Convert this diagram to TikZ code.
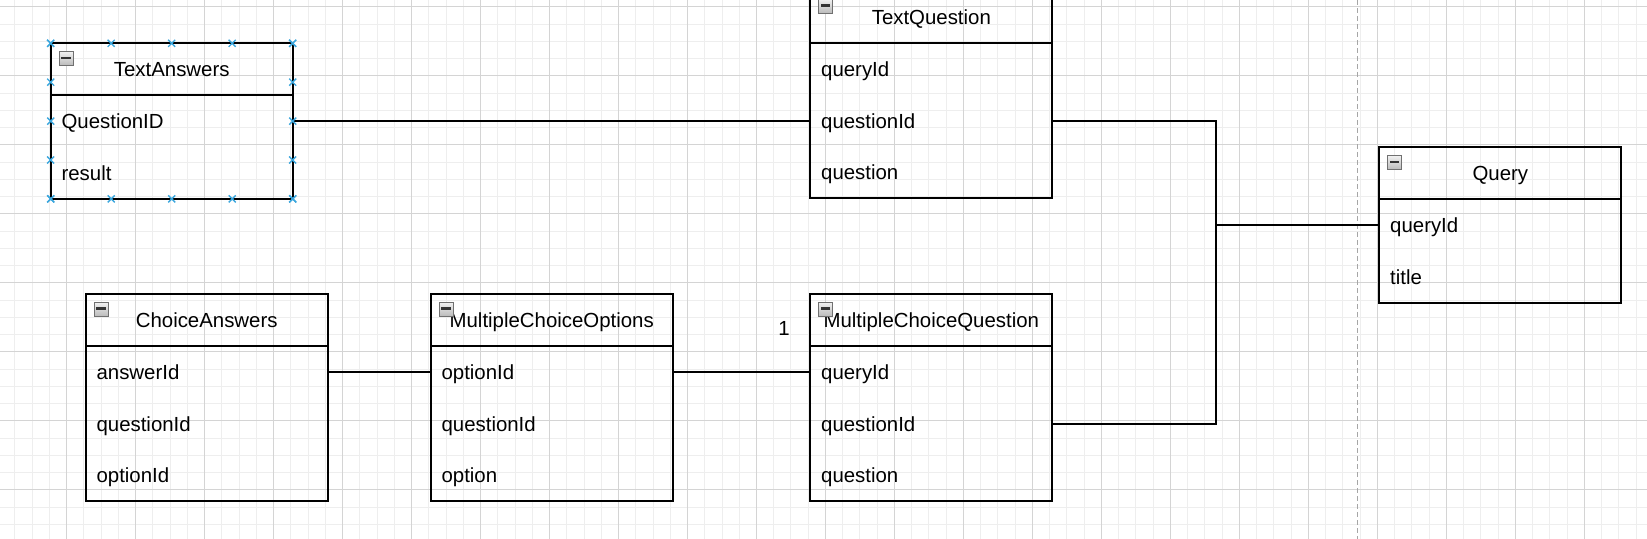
\documentclass[tikz,border=0pt]{standalone}
\usepackage{fontspec}
\setmainfont{Liberation Sans}
\usetikzlibrary{calc}
\definecolor{gridmajor}{HTML}{D4D4D4}
\definecolor{gridminor}{HTML}{EEEEEE}
\definecolor{handleblue}{HTML}{3AA6DD}
\definecolor{iconedge}{HTML}{707070}
\tikzset{
  umlhead/.style={draw=black, line width=1pt, minimum width=121pt, minimum height=26.1pt,
    inner sep=0pt, outer sep=0pt, anchor=north west, text height=7.3pt, text depth=0pt,
    font=\fontsize{10.2}{12}\selectfont},
  umlbody/.style={draw=black, line width=1pt, minimum width=121pt, inner sep=0pt, outer sep=0pt,
    anchor=north west},
  field/.style={anchor=base west, inner sep=0pt, font=\fontsize{10.2}{12}\selectfont},
  lbl/.style={inner sep=0pt, font=\fontsize{10.2}{12}\selectfont},
  icon/.style={draw=iconedge, line width=0.4pt, top color=gray!12, bottom color=gray!55,
    minimum size=7pt, inner sep=0pt},
  conn/.style={draw=black, line width=1pt},
  handle/.style={draw=handleblue, line width=0.7pt},
  minorline/.style={draw=gridminor, line width=0.5pt},
  majorline/.style={draw=gridmajor, line width=0.5pt},
  pagebreak/.style={draw=gray!70, line width=0.6pt, dash pattern=on 2.5pt off 1.5pt}
}
\newcommand\umlclass[5]{%
  \node[umlhead] (#1-h) at (#2) {#3};
  \node[icon] (#1-ic) at ($(#1-h.north west)+(15.3,15.5)$)
    {\raisebox{0.9pt}{\color{black!80}\rule{4.6pt}{1.1pt}}};
  \node[umlbody, minimum height=#4] (#1-b) at (#1-h.south west) {};
  \foreach \f [count=\i] in {#5}
    \node[field] (#1-\i) at ($(#1-b.north west)+(10.5,{33.15+51.7*(\i-1)})$) {\f};
}
\begin{document}
\begin{tikzpicture}[x=0.5pt,y=-0.5pt]
  \useasboundingbox (0,0) rectangle (1647,539);
  \clip (0,0) rectangle (1647,539);
  % grid
  \foreach \i in {0,...,95}
    \draw[minorline] ({14.96+17.245*\i},0) -- ({14.96+17.245*\i},539);
  \foreach \j in {0,...,31}
    \draw[minorline] (0,{7+17.245*\j}) -- (1647,{7+17.245*\j});
  \foreach \i in {-1,...,23}
    \draw[majorline] ({66.7+68.98*\i},0) -- ({66.7+68.98*\i},539);
  \foreach \j in {0,...,7}
    \draw[majorline] (0,{7+68.98*\j}) -- (1647,{7+68.98*\j});
  % page break line
  \coordinate (pbtop) at (1357.3,0);
  \coordinate (pbbot) at (1357.3,539);
  \draw[pagebreak] (pbtop) -- (pbbot);

  % classes
  \umlclass{ta}{50.7,43.3}{TextAnswers}{51.7pt}{QuestionID,result}
  \umlclass{tq}{810.3,-9}{TextQuestion}{77.55pt}{queryId,questionId,question}
  \umlclass{q}{1379.3,147.3}{Query}{51.7pt}{queryId,title}
  \umlclass{ca}{85.7,294}{ChoiceAnswers}{77.55pt}{answerId,questionId,optionId}
  \umlclass{mco}{430.7,294}{MultipleChoiceOptions}{77.55pt}{optionId,questionId,option}
  \umlclass{mcq}{810.3,294}{MultipleChoiceQuestion}{77.55pt}{queryId,questionId,question}

  % connection points at the middle of each linked row
  \coordinate (ta-1m) at ($(ta-b.north east)+(0,25.85)$);
  \coordinate (tq-2m) at ($(tq-b.north west)+(0,77.55)$);
  \coordinate (q-1m) at ($(q-b.north west)+(0,25.85)$);
  \coordinate (ca-1m) at ($(ca-b.north east)+(0,25.85)$);
  \coordinate (mco-1m) at ($(mco-b.north west)+(0,25.85)$);
  \coordinate (mcq-1m) at ($(mcq-b.north west)+(0,25.85)$);
  \coordinate (mcq-2m) at ($(mcq-b.north east)+(0,77.55)$);
  \coordinate (jn) at (1215.7,0);

  % connectors
  \draw[conn] (ta-b.east |- tq-2m) -- (tq-2m);
  \draw[conn] (tq-b.east |- tq-2m) -| (jn |- q-1m) -- (q-1m);
  \draw[conn] (mcq-2m) -| (jn |- q-1m) -- (q-1m);
  \draw[conn] (ca-1m) -- (mco-1m);
  \draw[conn] (mco-b.east |- mco-1m) -- (mcq-1m);
  \node[lbl] (one) at (784,328) {1};

  % selection handles on TextAnswers
  \foreach \k in {0,...,4} {
    \coordinate (ht\k) at ($(ta-h.north west)!\k/4!(ta-h.north east)$);
    \coordinate (hb\k) at ($(ta-b.south west)!\k/4!(ta-b.south east)$);
    \coordinate (hl\k) at ($(ta-h.north west)!\k/4!(ta-b.south west)$);
    \coordinate (hr\k) at ($(ta-h.north east)!\k/4!(ta-b.south east)$);
    \foreach \p in {ht\k,hb\k,hl\k,hr\k}
      \draw[handle] (\p) +(-3.5,-3.5) -- +(3.5,3.5) +(-3.5,3.5) -- +(3.5,-3.5);
  }
\end{tikzpicture}
\end{document}
